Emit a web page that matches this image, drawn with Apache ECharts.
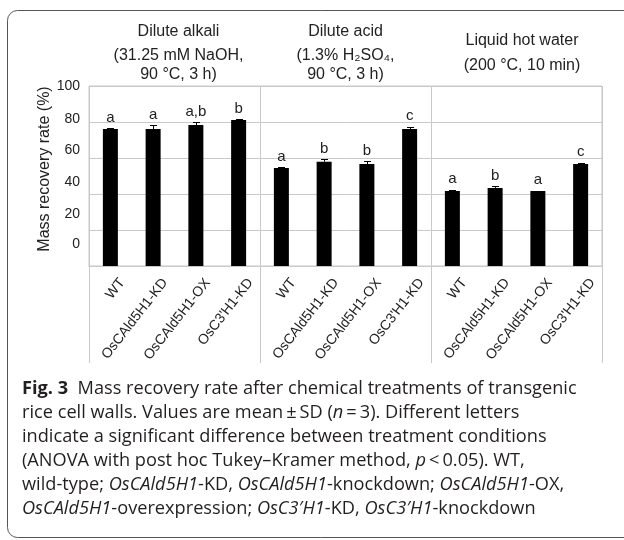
<!DOCTYPE html>
<html><head><meta charset="utf-8">
<script src="https://cdn.jsdelivr.net/npm/echarts@6/dist/echarts.min.js"></script>
<style>html,body{margin:0;padding:0;background:#fff}#c{width:624px;height:540px}</style>
</head><body><div id="c"></div>
<script>
// ---- data ----
const strains = ['WT', 'OsCAld5H1-KD', 'OsCAld5H1-OX', "OsC3'H1-KD"];
const groups = [
  'Dilute alkali\n(31.25 mM NaOH,\n90 °C, 3 h)',
  'Dilute acid\n(1.3% H₂SO₄,\n90 °C, 3 h)',
  'Liquid hot water\n(200 °C, 10 min)'
];
const alkaliMean = [76.1, 76.1, 78.3, 81.1];
const alkaliSD   = [0.4, 2.0, 1.5, 0.3];
const acidMean   = [54.5, 57.9, 56.6, 76.1];
const acidSD     = [0.4, 1.3, 1.7, 1.3];
const lhwMean    = [41.6, 43.4, 41.6, 56.6];
const lhwSD      = [0.9, 0.8, 0.3, 0.9];
const alkaliLetters = ['a', 'a', 'a,b', 'b'];
const acidLetters   = ['a', 'b', 'b', 'c'];
const lhwLetters    = ['a', 'b', 'a', 'c'];
const yTicks = [0, 20, 40, 60, 80, 100];

// ---- combined ----
const categories = groups.flatMap(() => strains);
const means = [...alkaliMean, ...acidMean, ...lhwMean];
const sds = [...alkaliSD, ...acidSD, ...lhwSD];
const letters = [...alkaliLetters, ...acidLetters, ...lhwLetters];

const FONT = '"Liberation Sans", Arial, sans-serif';
const CAP = '"Open Sans", "Noto Sans", sans-serif';
const GRID = '#c9c9c9';
const TXT = '#222';
const CAPC = '#231f20';
const CAPFS = 18.2;

// tick label offsets as in the reference figure
const shift = {0: 22, 20: 16, 40: 12, 60: 8, 80: 3, 100: 0};
const yRich = {};
yTicks.forEach(v => {
  yRich['y' + v] = {fontSize: 14, fontFamily: FONT, color: TXT, padding: [0, 0, 2 * shift[v], 0]};
});

// header line styles
const hs = (lh, pl) => ({fontSize: 16, fontFamily: FONT, color: TXT, lineHeight: lh, padding: [0, 0, 0, pl]});
const headRich = {
  a1: hs(30, 8), a2: hs(18, 8), a3: hs(20, 8),
  b1: hs(30, 0), b2: hs(18, 0), b3: hs(20, 0),
  c1: hs(12, 11), c2: hs(38, 11)
};
const headPrefix = ['a', 'b', 'c'];

const chart = echarts.init(document.getElementById('c'), null, {renderer: 'canvas'});
const gridRect = {left: 89, right: 22, top: 86, bottom: 274};

chart.setOption({
  animation: false,
  grid: [
    Object.assign({show: true, borderColor: GRID, borderWidth: 1, backgroundColor: 'transparent'}, gridRect),
    Object.assign({show: false}, gridRect)
  ],
  xAxis: [
    {
      type: 'category', gridIndex: 0, data: categories, position: 'bottom',
      axisLine: {show: true, lineStyle: {color: GRID, width: 1}},
      axisTick: {show: false},
      axisLabel: {interval: 0, rotate: 52, margin: 5, verticalAlign: 'top', lineHeight: 30,
        fontSize: 14, fontFamily: FONT, color: TXT},
      splitLine: {show: false}
    },
    {
      type: 'category', gridIndex: 0, data: groups, position: 'top',
      axisLine: {show: false}, axisTick: {show: false}, splitLine: {show: false},
      axisLabel: {interval: 0, margin: 1, verticalAlign: 'bottom',
        fontSize: 16, fontFamily: FONT, color: TXT,
        formatter: (v, i) => v.split('\n').map((line, k) => '{' + headPrefix[i] + (k + 1) + '|' + line + '}').join('\n'),
        rich: headRich}
    },
    {
      type: 'category', gridIndex: 1, data: groups, position: 'bottom',
      axisLine: {show: false},
      axisTick: {show: true, length: 97, lineStyle: {color: GRID, width: 1}},
      axisLabel: {show: false},
      splitLine: {show: true, lineStyle: {color: GRID, width: 1}}
    }
  ],
  yAxis: [
    {
      type: 'value', gridIndex: 0, min: 0, max: 100, interval: 20,
      axisLine: {show: false}, axisTick: {show: false},
      splitLine: {show: true, lineStyle: {color: GRID, width: 1}},
      axisLabel: {margin: 9, formatter: v => '{y' + v + '|' + v + '}', rich: yRich},
      name: 'Mass recovery rate (%)', nameLocation: 'middle', nameGap: 36, nameMoveOverlap: false,
      nameTextStyle: {fontSize: 16, fontFamily: FONT, color: TXT, padding: [0, 0, 0, 14]}
    },
    {
      type: 'value', gridIndex: 1, min: 0, max: 100, show: false
    }
  ],
  series: [
    {
      type: 'bar', xAxisIndex: 0, yAxisIndex: 0, data: means, barWidth: 15,
      itemStyle: {color: '#000'}, silent: true
    },
    {
      type: 'custom', xAxisIndex: 0, yAxisIndex: 0, silent: true,
      data: means.map((m, i) => [i, m, sds[i]]),
      encode: {x: 0, y: 1},
      renderItem: function (params, api) {
        const i = api.value(0), m = api.value(1), s = api.value(2);
        const top = api.coord([i, m + s]);
        const base = api.coord([i, m]);
        const x = Math.round(top[0]) + 0.5;
        const yt = Math.round(top[1]) + 0.5;
        return {
          type: 'group', children: [
            {type: 'line', shape: {x1: x, y1: base[1], x2: x, y2: yt}, style: {stroke: '#000', lineWidth: 1}},
            {type: 'line', shape: {x1: x - 3.5, y1: yt, x2: x + 3.5, y2: yt}, style: {stroke: '#000', lineWidth: 1}},
            {type: 'text', x: top[0], y: top[1] - 3,
              style: {text: letters[params.dataIndex], align: 'center', verticalAlign: 'bottom',
                fontSize: 15, fontFamily: FONT, fill: TXT}}
          ]
        };
      }
    }
  ],
  graphic: [
    {
      type: 'rect', z: -10, silent: true,
      shape: {x: 7.5, y: 10.5, width: 700, height: 527, r: 10},
      style: {fill: 'none', stroke: '#555', lineWidth: 1}
    },
    {
      type: 'text', left: 22, top: 377, silent: true,
      style: {
        text: '{b|Fig. 3}  Mass recovery rate after chemical treatments of transgenic\n' +
              'rice cell walls. Values are mean\u2009±\u2009SD ({i|n}\u2009=\u20093). Different letters\n' +
              'indicate a significant difference between treatment conditions\n' +
              '(ANOVA with post hoc Tukey–Kramer method, {i|p}\u2009<\u20090.05). WT,\n' +
              'wild-type; {i|OsCAld5H1}-KD, {i|OsCAld5H1}-knockdown; {i|OsCAld5H1}-OX,\n' +
              '{i|OsCAld5H1}-overexpression; {i|OsC3\u2032H1}-KD, {i|OsC3\u2032H1}-knockdown',
        fontSize: CAPFS, fontFamily: CAP, fill: CAPC, lineHeight: 24,
        rich: {
          b: {fontSize: CAPFS, fontFamily: CAP, fontWeight: 'bold', lineHeight: 24, fill: CAPC},
          i: {fontSize: CAPFS, fontFamily: CAP, fontStyle: 'italic', lineHeight: 24, fill: CAPC}
        }
      }
    }
  ]
});
</script>
</body></html>
